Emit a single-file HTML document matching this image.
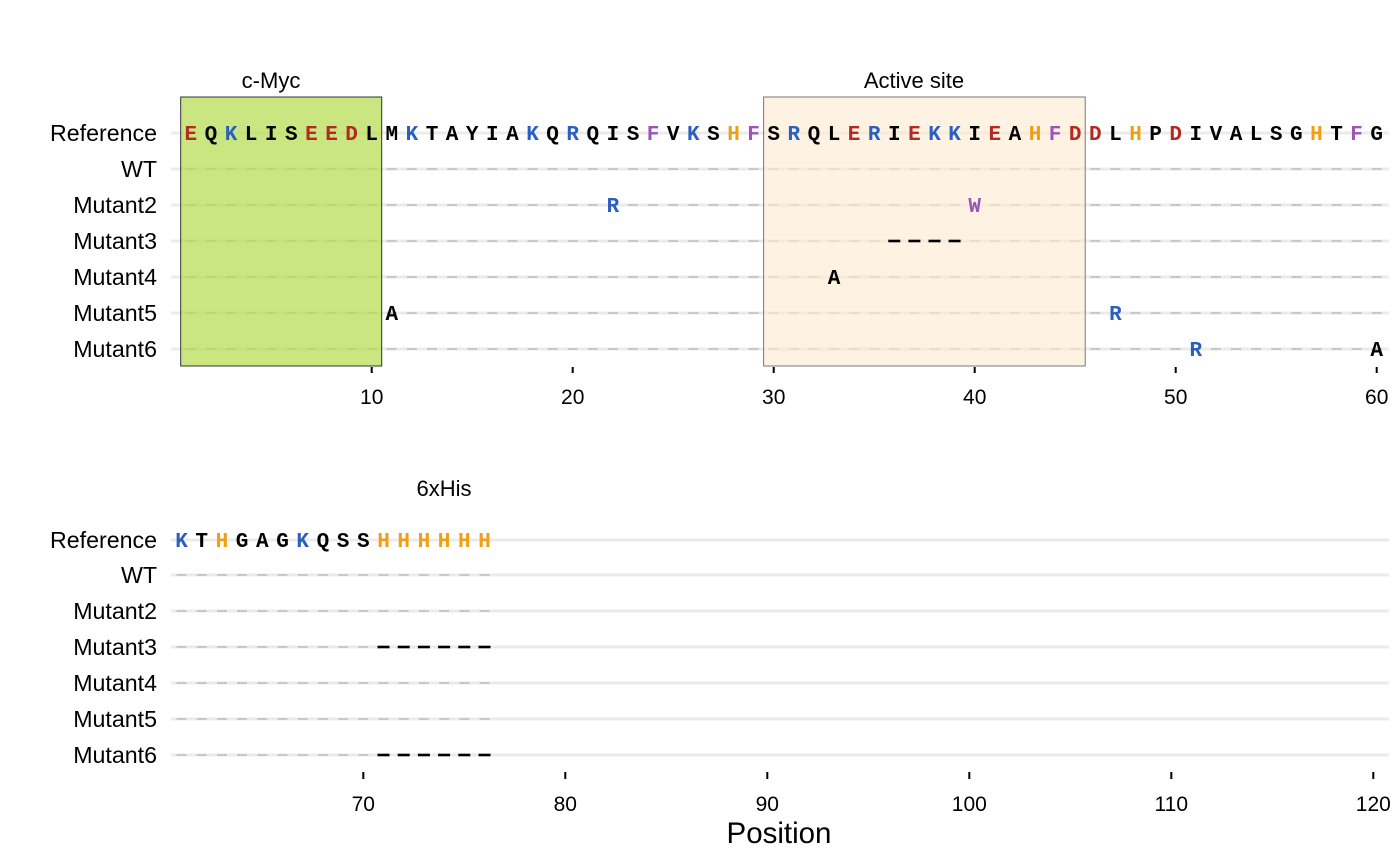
<!DOCTYPE html>
<html><head><meta charset="utf-8"><style>
html,body{margin:0;padding:0;background:#fff}
svg{display:block}
.lab{font-family:"Liberation Sans",sans-serif;font-size:23.2px;fill:#000;text-anchor:end}
.tk{font-family:"Liberation Sans",sans-serif;font-size:21px;fill:#000;text-anchor:middle}
.ttl{font-family:"Liberation Sans",sans-serif;font-size:22px;fill:#000;text-anchor:middle}
.aa{font-family:"Liberation Mono",monospace;font-weight:bold;font-size:21px;text-anchor:middle;fill:#000}
.r{fill:#b22a22}.b{fill:#2a5fc0}.o{fill:#f29e12}.p{fill:#9b55b8}
.g{stroke:#ebebeb;stroke-width:3}
.d{stroke:#bdbdbd;stroke-width:1.6;stroke-dasharray:10 10.1}
.db{stroke:#bdbdbd;stroke-width:1.6;stroke-dasharray:10 10.2}
.del{stroke:#000;stroke-width:2.6}
</style></head><body>
<svg width="1400" height="865" viewBox="0 0 1400 865" xmlns="http://www.w3.org/2000/svg">
<text class="ttl" x="271" y="88">c-Myc</text>
<text class="ttl" x="914" y="88">Active site</text>
<!-- top gridlines -->
<g>
<line class="g" x1="171" y1="133" x2="1389" y2="133"/>
<line class="g" x1="171" y1="169" x2="1389" y2="169"/>
<line class="g" x1="171" y1="205" x2="1389" y2="205"/>
<line class="g" x1="171" y1="241" x2="1389" y2="241"/>
<line class="g" x1="171" y1="277" x2="1389" y2="277"/>
<line class="g" x1="171" y1="313" x2="1389" y2="313"/>
<line class="g" x1="171" y1="349" x2="1389" y2="349"/>
<line class="d" x1="185.8" y1="169" x2="1381.7" y2="169"/>
<line class="d" x1="185.8" y1="205" x2="1381.7" y2="205"/>
<line class="d" x1="185.8" y1="241" x2="1381.7" y2="241"/>
<line class="d" x1="185.8" y1="277" x2="1381.7" y2="277"/>
<line class="d" x1="185.8" y1="313" x2="1381.7" y2="313"/>
<line class="d" x1="185.8" y1="349" x2="1381.7" y2="349"/>
</g>
<!-- boxes (semi-transparent over gridlines) -->
<rect x="180.7" y="97" width="201" height="269" fill="#b5dc50" fill-opacity="0.72" stroke="#333" stroke-width="1"/>
<rect x="763.6" y="97" width="321.6" height="269" fill="#fdebd0" fill-opacity="0.6" stroke="#777" stroke-width="1"/>
<!-- row labels top -->
<text class="lab" x="157" y="141">Reference</text>
<text class="lab" x="157" y="177">WT</text>
<text class="lab" x="157" y="213">Mutant2</text>
<text class="lab" x="157" y="249">Mutant3</text>
<text class="lab" x="157" y="285">Mutant4</text>
<text class="lab" x="157" y="321">Mutant5</text>
<text class="lab" x="157" y="357">Mutant6</text>
<!-- reference sequence top -->
<text class="aa" y="140"><tspan class="r" x="190.8">E</tspan><tspan x="210.9">Q</tspan><tspan class="b" x="231.0">K</tspan><tspan x="251.1">L</tspan><tspan x="271.2">I</tspan><tspan x="291.3">S</tspan><tspan class="r" x="311.4">E</tspan><tspan class="r" x="331.5">E</tspan><tspan class="r" x="351.6">D</tspan><tspan x="371.7">L</tspan><tspan x="391.8">M</tspan><tspan class="b" x="411.9">K</tspan><tspan x="432.0">T</tspan><tspan x="452.1">A</tspan><tspan x="472.2">Y</tspan><tspan x="492.3">I</tspan><tspan x="512.4">A</tspan><tspan class="b" x="532.5">K</tspan><tspan x="552.6">Q</tspan><tspan class="b" x="572.7">R</tspan><tspan x="592.8">Q</tspan><tspan x="612.9">I</tspan><tspan x="633.0">S</tspan><tspan class="p" x="653.1">F</tspan><tspan x="673.2">V</tspan><tspan class="b" x="693.3">K</tspan><tspan x="713.4">S</tspan><tspan class="o" x="733.5">H</tspan><tspan class="p" x="753.6">F</tspan><tspan x="773.7">S</tspan><tspan class="b" x="793.8">R</tspan><tspan x="813.9">Q</tspan><tspan x="834.0">L</tspan><tspan class="r" x="854.1">E</tspan><tspan class="b" x="874.2">R</tspan><tspan x="894.3">I</tspan><tspan class="r" x="914.4">E</tspan><tspan class="b" x="934.5">K</tspan><tspan class="b" x="954.6">K</tspan><tspan x="974.7">I</tspan><tspan class="r" x="994.8">E</tspan><tspan x="1014.9">A</tspan><tspan class="o" x="1035.0">H</tspan><tspan class="p" x="1055.1">F</tspan><tspan class="r" x="1075.2">D</tspan><tspan class="r" x="1095.3">D</tspan><tspan x="1115.4">L</tspan><tspan class="o" x="1135.5">H</tspan><tspan x="1155.6">P</tspan><tspan class="r" x="1175.7">D</tspan><tspan x="1195.8">I</tspan><tspan x="1215.9">V</tspan><tspan x="1236.0">A</tspan><tspan x="1256.1">L</tspan><tspan x="1276.2">S</tspan><tspan x="1296.3">G</tspan><tspan class="o" x="1316.4">H</tspan><tspan x="1336.5">T</tspan><tspan class="p" x="1356.6">F</tspan><tspan x="1376.7">G</tspan></text>
<!-- mutations top -->
<text class="aa b" x="612.9" y="212">R</text>
<text class="aa p" x="974.7" y="212">W</text>
<line class="del" x1="888.3" y1="241" x2="900.3" y2="241"/>
<line class="del" x1="908.4" y1="241" x2="920.4" y2="241"/>
<line class="del" x1="928.5" y1="241" x2="940.5" y2="241"/>
<line class="del" x1="948.6" y1="241" x2="960.6" y2="241"/>
<text class="aa" x="834.0" y="284">A</text>
<text class="aa" x="391.8" y="320">A</text>
<text class="aa b" x="1115.4" y="320">R</text>
<text class="aa b" x="1195.8" y="356">R</text>
<text class="aa" x="1376.7" y="356">A</text>
<!-- top axis -->
<g stroke="#000" stroke-width="2">
<line x1="371.7" y1="367" x2="371.7" y2="373"/>
<line x1="572.7" y1="367" x2="572.7" y2="373"/>
<line x1="773.7" y1="367" x2="773.7" y2="373"/>
<line x1="974.7" y1="367" x2="974.7" y2="373"/>
<line x1="1175.7" y1="367" x2="1175.7" y2="373"/>
<line x1="1376.7" y1="367" x2="1376.7" y2="373"/>
</g>
<text class="tk" x="371.7" y="404">10</text>
<text class="tk" x="572.7" y="404">20</text>
<text class="tk" x="773.7" y="404">30</text>
<text class="tk" x="974.7" y="404">40</text>
<text class="tk" x="1175.7" y="404">50</text>
<text class="tk" x="1376.7" y="404">60</text>

<!-- bottom panel -->
<text class="ttl" x="444" y="496">6xHis</text>
<g>
<line class="g" x1="171" y1="540" x2="1389" y2="540"/>
<line class="g" x1="171" y1="575" x2="1389" y2="575"/>
<line class="g" x1="171" y1="611" x2="1389" y2="611"/>
<line class="g" x1="171" y1="647" x2="1389" y2="647"/>
<line class="g" x1="171" y1="683" x2="1389" y2="683"/>
<line class="g" x1="171" y1="719" x2="1389" y2="719"/>
<line class="g" x1="171" y1="755" x2="1389" y2="755"/>
<line class="db" x1="176.5" y1="575" x2="489.5" y2="575"/>
<line class="db" x1="176.5" y1="611" x2="489.5" y2="611"/>
<line class="db" x1="176.5" y1="647" x2="378.5" y2="647"/>
<line class="db" x1="176.5" y1="683" x2="489.5" y2="683"/>
<line class="db" x1="176.5" y1="719" x2="489.5" y2="719"/>
<line class="db" x1="176.5" y1="755" x2="378.5" y2="755"/>
</g>
<text class="lab" x="157" y="548">Reference</text>
<text class="lab" x="157" y="583">WT</text>
<text class="lab" x="157" y="619">Mutant2</text>
<text class="lab" x="157" y="655">Mutant3</text>
<text class="lab" x="157" y="691">Mutant4</text>
<text class="lab" x="157" y="727">Mutant5</text>
<text class="lab" x="157" y="763">Mutant6</text>
<text class="aa" y="547"><tspan class="b" x="181.5">K</tspan><tspan x="201.7">T</tspan><tspan class="o" x="221.9">H</tspan><tspan x="242.1">G</tspan><tspan x="262.3">A</tspan><tspan x="282.5">G</tspan><tspan class="b" x="302.7">K</tspan><tspan x="322.9">Q</tspan><tspan x="343.1">S</tspan><tspan x="363.3">S</tspan><tspan class="o" x="383.5">H</tspan><tspan class="o" x="403.7">H</tspan><tspan class="o" x="423.9">H</tspan><tspan class="o" x="444.1">H</tspan><tspan class="o" x="464.3">H</tspan><tspan class="o" x="484.5">H</tspan></text>
<g class="del">
<line x1="377.5" y1="647" x2="389.5" y2="647"/><line x1="397.7" y1="647" x2="409.7" y2="647"/><line x1="417.9" y1="647" x2="429.9" y2="647"/><line x1="438.1" y1="647" x2="450.1" y2="647"/><line x1="458.3" y1="647" x2="470.3" y2="647"/><line x1="478.5" y1="647" x2="490.5" y2="647"/>
<line x1="377.5" y1="755" x2="389.5" y2="755"/><line x1="397.7" y1="755" x2="409.7" y2="755"/><line x1="417.9" y1="755" x2="429.9" y2="755"/><line x1="438.1" y1="755" x2="450.1" y2="755"/><line x1="458.3" y1="755" x2="470.3" y2="755"/><line x1="478.5" y1="755" x2="490.5" y2="755"/>
</g>
<g stroke="#000" stroke-width="2">
<line x1="363.3" y1="772" x2="363.3" y2="779"/>
<line x1="565.3" y1="772" x2="565.3" y2="779"/>
<line x1="767.3" y1="772" x2="767.3" y2="779"/>
<line x1="969.3" y1="772" x2="969.3" y2="779"/>
<line x1="1171.3" y1="772" x2="1171.3" y2="779"/>
<line x1="1373.3" y1="772" x2="1373.3" y2="779"/>
</g>
<text class="tk" x="363.3" y="811">70</text>
<text class="tk" x="565.3" y="811">80</text>
<text class="tk" x="767.3" y="811">90</text>
<text class="tk" x="969.3" y="811">100</text>
<text class="tk" x="1171.3" y="811">110</text>
<text class="tk" x="1373.3" y="811">120</text>
<text x="779" y="843" font-family="Liberation Sans, sans-serif" font-size="29.5" text-anchor="middle">Position</text>
</svg>
</body></html>
